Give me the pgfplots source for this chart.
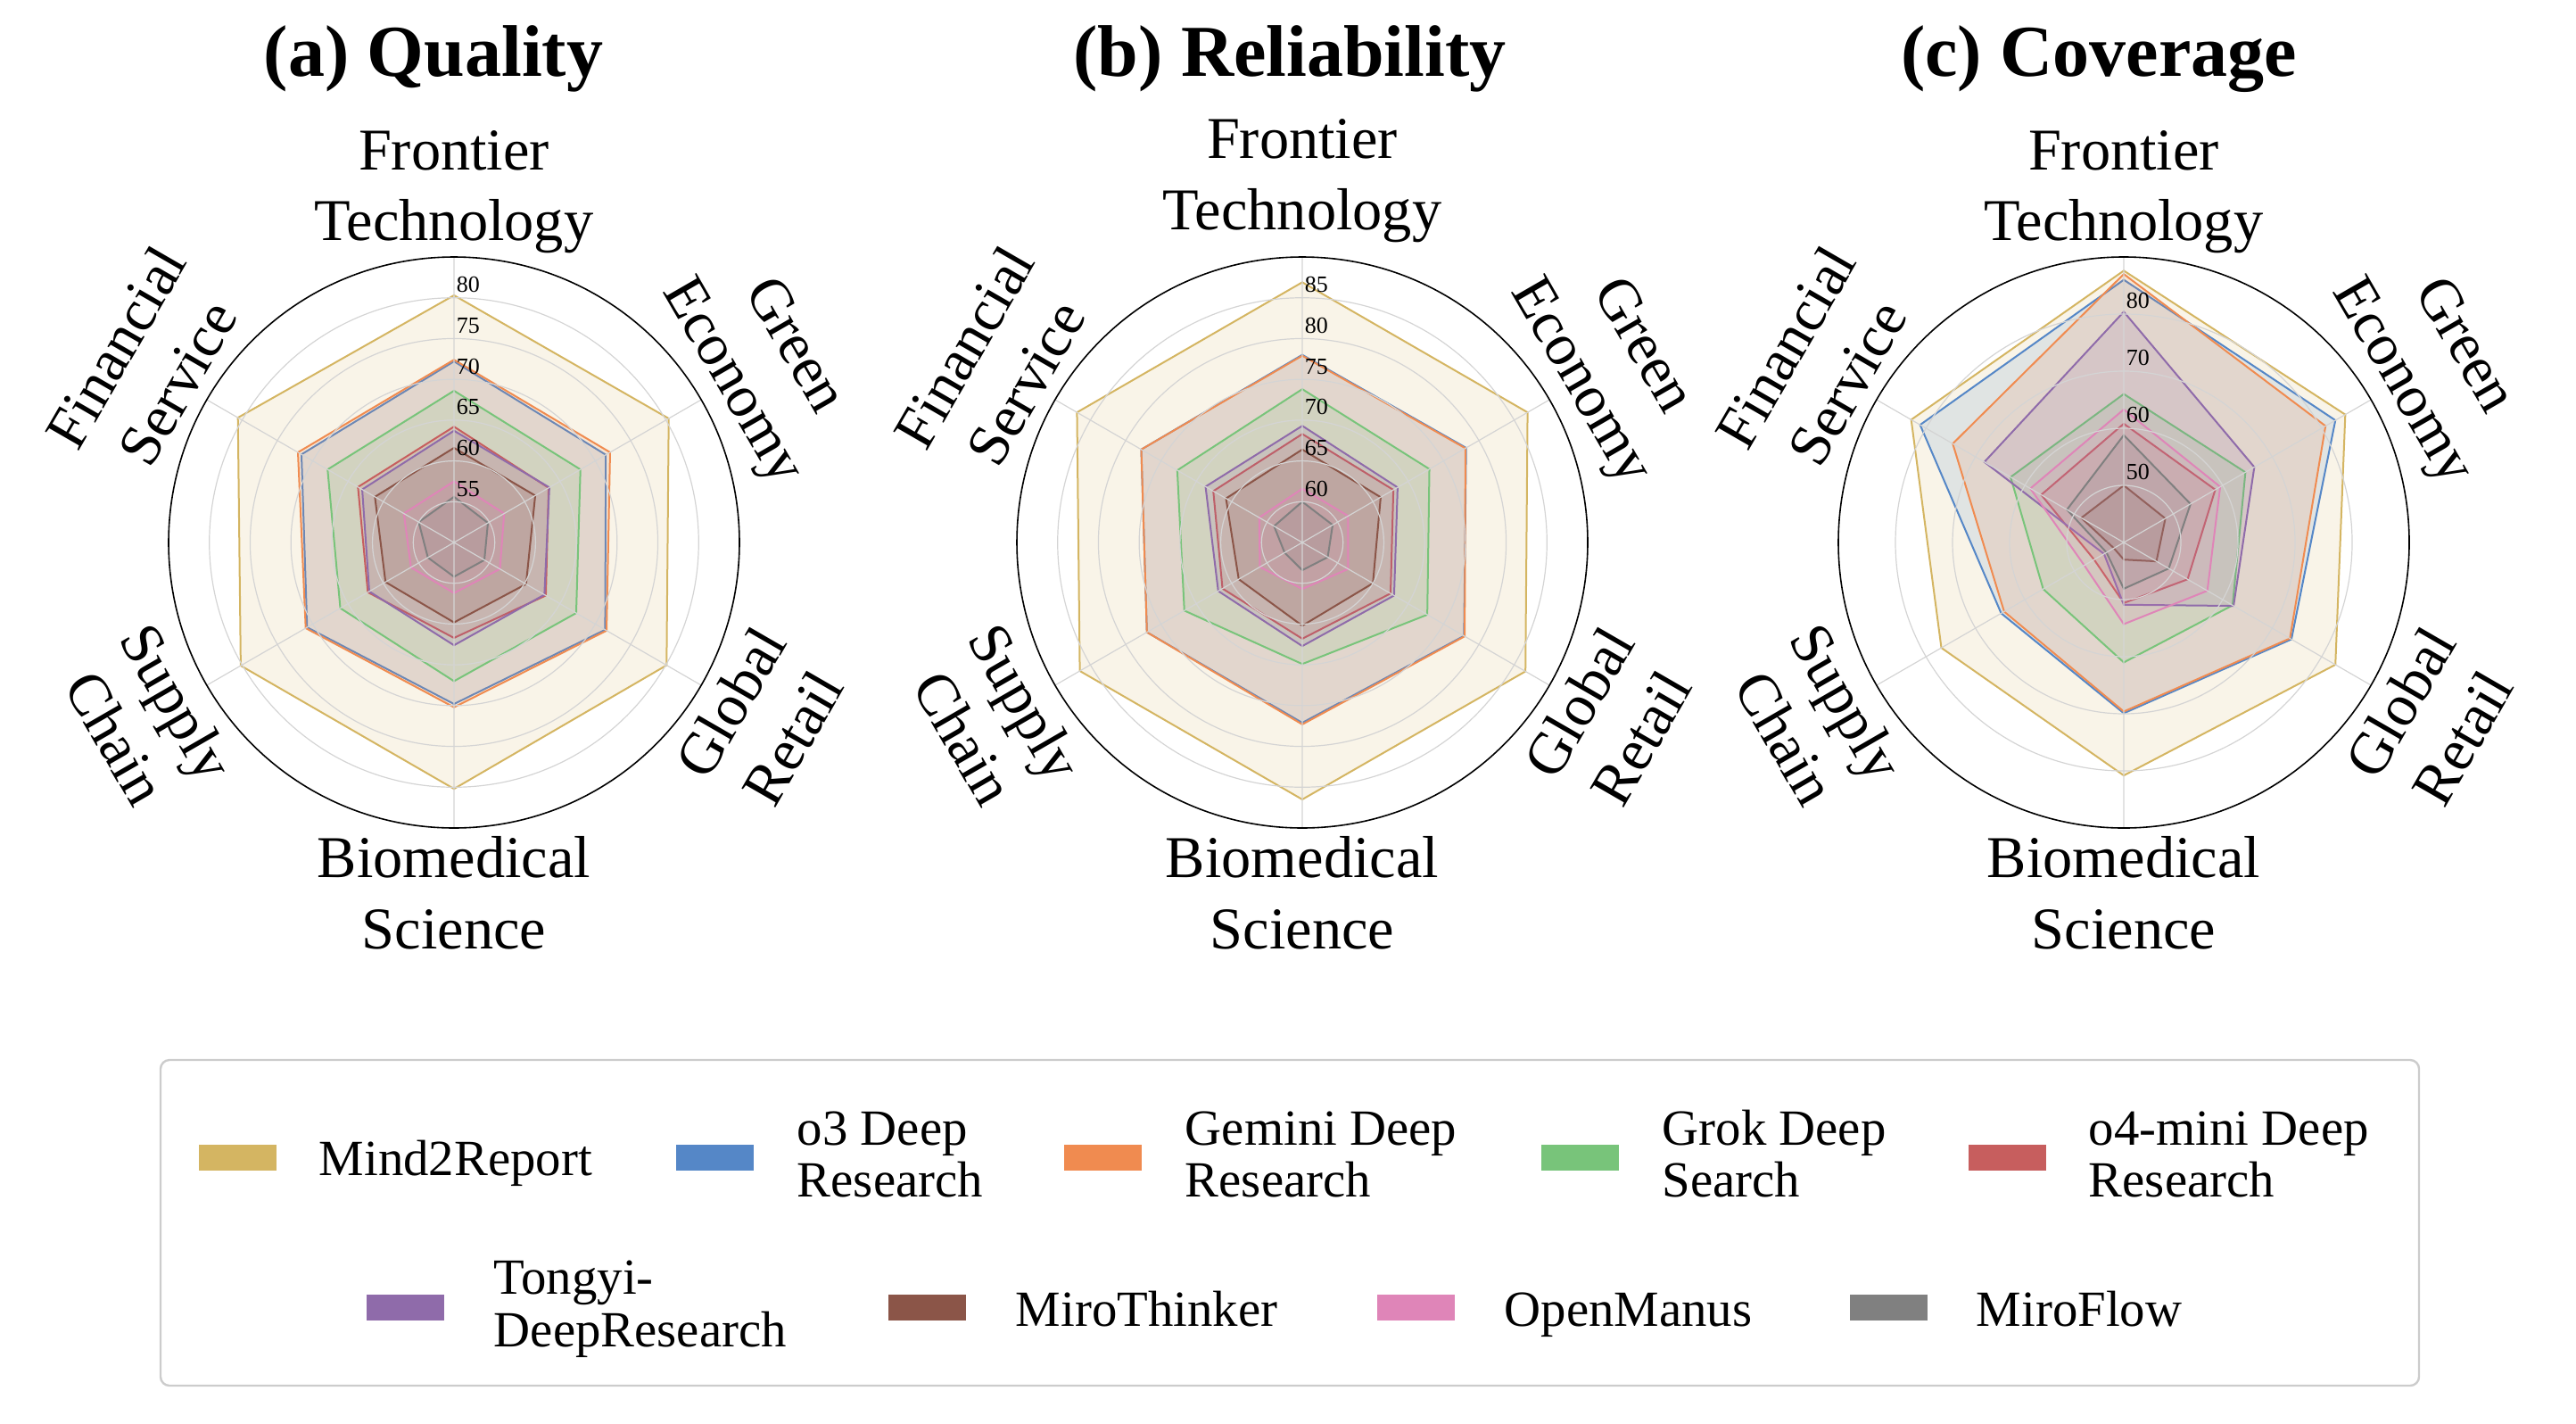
\documentclass[border=0pt]{standalone}
\usepackage{fontspec}
\setmainfont{Liberation Serif}
\usepackage{pgfplots}
\usepackage{pgfplotstable}
\pgfplotsset{compat=1.18}
\usepgfplotslibrary{polar}

\definecolor{cM}{HTML}{D4B562}
\definecolor{cO}{HTML}{5587C7}
\definecolor{cG}{HTML}{F08B50}
\definecolor{cK}{HTML}{78C47A}
\definecolor{cR}{HTML}{C75E5E}
\definecolor{cT}{HTML}{8F6BAA}
\definecolor{cB}{HTML}{8B5548}
\definecolor{cP}{HTML}{DF85B8}
\definecolor{cF}{HTML}{808080}

% angle: 90 Frontier Technology, 30 Green Economy, 330 Global Retail,
% 270 Biomedical Science, 210 Supply Chain, 150 Financial Service
\pgfplotstableread{
a   m2r  o3   gem  grok o4m  tongyi thinker manus flow
90  80.3 72.2 72.4 68.6 64.2 63.7 61.6 57.5 55.6
30  80.4 71.5 72.1 67.9 63.4 63.5 61.5 57.1 54.8
330 80.1 71.4 71.6 67.3 63.0 62.8 60.2 56.5 54.3
270 80.2 69.8 70.2 67.0 61.7 62.6 59.8 56.2 54.2
210 80.2 70.8 71.0 66.1 62.2 62.0 59.7 56.1 53.7
150 80.6 71.6 72.1 67.9 63.6 63.0 61.2 57.1 55.0
}\tabQ

\pgfplotstableread{
a   m2r  o3   gem  grok o4m  tongyi thinker manus flow
90  86.9 78.0 77.9 73.8 68.3 69.3 66.4 61.6 60.0
30  86.9 78.2 78.1 73.0 67.9 68.5 66.1 61.5 59.3
330 86.6 77.9 78.0 72.7 67.5 68.0 65.0 61.5 58.6
270 86.5 77.1 77.3 69.9 66.8 67.7 65.2 60.7 58.4
210 86.5 77.0 77.0 71.7 66.3 66.9 64.0 61.0 57.5
150 86.9 77.8 77.8 72.7 67.6 68.7 65.8 61.1 59.0
}\tabR

\pgfplotstableread{
a   m2r  o3   gem  grok o4m  tongyi thinker manus flow
90  87.6 86.0 87.0 66.0 60.8 80.4 50.0 63.3 58.8
30  84.8 82.8 80.8 64.6 58.5 66.4 48.4 59.5 53.5
330 82.8 73.9 73.6 62.0 52.9 62.2 46.6 56.9 49.1
270 80.8 69.9 69.6 61.0 50.6 50.9 43.0 54.3 48.1
210 76.9 64.8 64.2 56.3 46.0 44.0 42.0 48.0 43.5
150 83.0 81.2 74.6 62.9 56.7 68.2 48.6 58.9 51.5
}\tabC

\pgfplotsset{
  radar/.style={
    scale only axis, width=160pt, height=160pt, anchor=center,
    xmin=0, xmax=360, ymin=0,
    xtick={30,90,150,210,270,330},
    xticklabels={}, yticklabels={},
    major tick length=0pt,
    xmajorgrids, ymajorgrids,
    major grid style={color=black!17, line width=0.3pt},
    axis line style={black, line width=0.4pt},
    y axis line style={draw=none},
    axis on top, clip=false,
    every axis plot/.append style={line width=0.5pt, fill opacity=0.15, line join=miter},
  }
}

\newcommand{\radarplots}[2]{%
  \addplot[draw=cM, fill=cM] table[x=a, y expr=\thisrow{m2r}-#2] {#1} -- cycle;
  \addplot[draw=cO, fill=cO] table[x=a, y expr=\thisrow{o3}-#2] {#1} -- cycle;
  \addplot[draw=cG, fill=cG] table[x=a, y expr=\thisrow{gem}-#2] {#1} -- cycle;
  \addplot[draw=cK, fill=cK] table[x=a, y expr=\thisrow{grok}-#2] {#1} -- cycle;
  \addplot[draw=cR, fill=cR] table[x=a, y expr=\thisrow{o4m}-#2] {#1} -- cycle;
  \addplot[draw=cT, fill=cT] table[x=a, y expr=\thisrow{tongyi}-#2] {#1} -- cycle;
  \addplot[draw=cB, fill=cB] table[x=a, y expr=\thisrow{thinker}-#2] {#1} -- cycle;
  \addplot[draw=cP, fill=cP] table[x=a, y expr=\thisrow{manus}-#2] {#1} -- cycle;
  \addplot[draw=cF, fill=cF] table[x=a, y expr=\thisrow{flow}-#2] {#1} -- cycle;
}

\tikzset{
  lab/.style={font=\fontsize{16.6}{20}\selectfont, inner sep=0pt},
  tl/.style={font=\fontsize{6.5}{7}\selectfont, inner sep=0pt, anchor=base west},
  lg/.style={font=\fontsize{14.2}{14.5}\selectfont, inner sep=0pt, anchor=base west},
  ttl/.style={font=\fontsize{20.5}{24}\selectfont\bfseries, inner sep=0pt, anchor=base},
}

% #1 x centre, #2 baseline Frontier, #3 baseline Technology
\newcommand{\catlabels}[3]{%
  \node[lab, anchor=base] at (#1pt,#2pt) {Frontier};
  \node[lab, anchor=base] at (#1pt,#3pt) {Technology};
  \node[lab, anchor=base] at (#1pt,-245.75pt) {Biomedical};
  \node[lab, anchor=base] at (#1pt,-265.75pt) {Science};
  \node[lab, rotate=-60, align=center] at ([shift={(30:99.5pt)}]#1pt,-152pt) {Green\\Economy};
  \node[lab, rotate=60, align=center] at ([shift={(-30:99.5pt)}]#1pt,-152pt) {Global\\Retail};
  \node[lab, rotate=-60, align=center] at ([shift={(210:99.5pt)}]#1pt,-152pt) {Supply\\Chain};
  \node[lab, rotate=60, align=center] at ([shift={(150:99.5pt)}]#1pt,-152pt) {Financial\\Service};
}

\begin{document}
\begin{tikzpicture}
\path[use as bounding box] (0,0) rectangle (722pt,-398.75pt);

% ---------- (a) Quality ----------
\begin{polaraxis}[radar, at={(127.25pt,-152pt)}, ymax=35, ytick={5,10,...,30}]
\radarplots{\tabQ}{50}
\end{polaraxis}
\foreach \v in {55,60,...,80}
  \node[tl] at ({127.75pt},{(-152+(\v-50)*80/35+1.5)*1pt}) {\v};
\catlabels{127.25}{-47.5}{-67.25}
\node[ttl] at (121.5pt,-21.25pt) {(a) Quality};

% ---------- (b) Reliability ----------
\begin{polaraxis}[radar, at={(365pt,-152pt)}, ymax=35, ytick={5,10,...,30}]
\radarplots{\tabR}{55}
\end{polaraxis}
\foreach \v in {60,65,...,85}
  \node[tl] at ({365.5pt},{(-152+(\v-55)*80/35+1.5)*1pt}) {\v};
\catlabels{365}{-44.25}{-64.25}
\node[ttl] at (361.5pt,-21.25pt) {(b) Reliability};

% ---------- (c) Coverage ----------
\begin{polaraxis}[radar, at={(595.25pt,-152pt)}, ymax=50, ytick={10,20,30,40}]
\radarplots{\tabC}{40}
\end{polaraxis}
\foreach \v in {50,60,70,80}
  \node[tl] at ({595.75pt},{(-152+(\v-40)*80/50+1.75)*1pt}) {\v};
\catlabels{595.25}{-47.5}{-67.25}
\node[ttl] at (588.25pt,-21.25pt) {(c) Coverage};

% ---------- legend ----------
\draw[black!20, line width=0.6pt, rounded corners=2.5pt] (45pt,-297pt) rectangle (678pt,-388.25pt);
% row 1
\fill[cM] (55.75pt,-327.875pt) rectangle ++(21.75pt,7.25pt);
\node[lg] at (89.25pt,-329.25pt) {Mind2Report};
\fill[cO] (189.5pt,-327.875pt) rectangle ++(21.75pt,7.25pt);
\node[lg] at (223.25pt,-320.75pt) {o3 Deep};
\node[lg] at (223.25pt,-335.25pt) {Research};
\fill[cG] (298.25pt,-327.875pt) rectangle ++(21.75pt,7.25pt);
\node[lg] at (332pt,-320.75pt) {Gemini Deep};
\node[lg] at (332pt,-335.25pt) {Research};
\fill[cK] (432pt,-327.875pt) rectangle ++(21.75pt,7.25pt);
\node[lg] at (465.75pt,-320.75pt) {Grok Deep};
\node[lg] at (465.75pt,-335.25pt) {Search};
\fill[cR] (551.75pt,-327.875pt) rectangle ++(21.75pt,7.25pt);
\node[lg] at (585.25pt,-320.75pt) {o4-mini Deep};
\node[lg] at (585.25pt,-335.25pt) {Research};
% row 2
\fill[cT] (102.75pt,-369.875pt) rectangle ++(21.75pt,7.25pt);
\node[lg] at (138.25pt,-362.5pt) {Tongyi-};
\node[lg] at (138.25pt,-377.25pt) {DeepResearch};
\fill[cB] (249pt,-369.875pt) rectangle ++(21.75pt,7.25pt);
\node[lg] at (284.5pt,-371.5pt) {MiroThinker};
\fill[cP] (386pt,-369.875pt) rectangle ++(21.75pt,7.25pt);
\node[lg] at (421.5pt,-371.5pt) {OpenManus};
\fill[cF] (518.5pt,-369.875pt) rectangle ++(21.75pt,7.25pt);
\node[lg] at (553.75pt,-371.5pt) {MiroFlow};
\end{tikzpicture}
\end{document}
